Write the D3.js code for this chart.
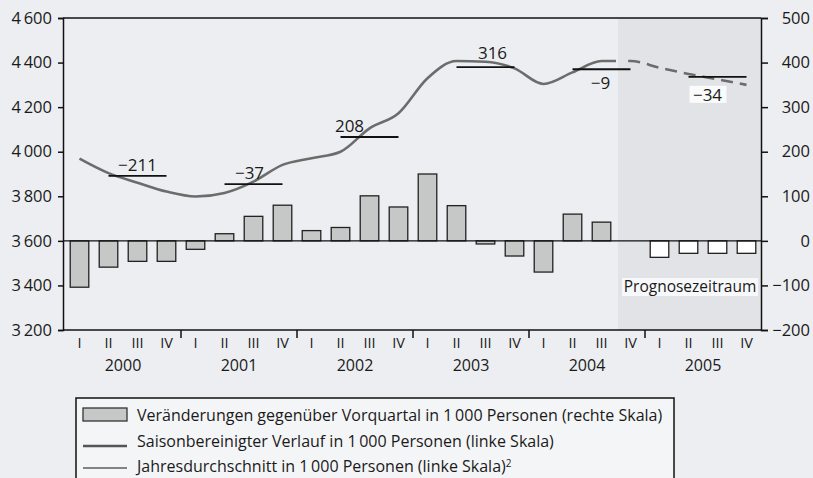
<!DOCTYPE html>
<html><head><meta charset="utf-8">
<script src="https://cdn.jsdelivr.net/npm/d3@7"></script>
<style>
html,body{margin:0;padding:0;background:#eceef1;}
svg{display:block;font-family:"Open Sans","Noto Sans",sans-serif;}
</style></head>
<body>
<svg id="c" width="813" height="478"></svg>
<script>
const years = ["2000","2001","2002","2003","2004","2005"];
const quarterNames = ["I","II","III","IV"];
// change vs previous quarter, 1000 persons (right scale); null = no bar
const barValues = [-104,-59,-46,-46, -19,16,55,80, 23,30,101,76, 150,79,-7,-34, -70,60,42,null, -37,-28,-28,-28];
// seasonally adjusted series, 1000 persons (left scale)
const lineValues = [3969,3904,3861,3821, 3799,3815,3866,3941, 3971,4000,4105,4173, 4330,4407,4404,4374, 4304,4356,4407,4407, 4377,4349,4325,4300];
// annual averages (left scale) and their change labels
const annualAvg = [3892,3855,4066,4380,4370,4336];
const annualLabels = ["\u2212211","\u221237","208","316","\u22129","\u221234"];
const leftTicks = [3200,3400,3600,3800,4000,4200,4400,4600];
const rightTicks = [-200,-100,0,100,200,300,400,500];
const forecastStart = 19; // index of first forecast quarter (2004 IV)
const legendItems = [
  "Veränderungen gegenüber Vorquartal in 1\u2009000 Personen (rechte Skala)",
  "Saisonbereinigter Verlauf in 1\u2009000 Personen (linke Skala)",
  "Jahresdurchschnitt in 1\u2009000 Personen (linke Skala)"
];

const svg = d3.select("#c");
const L = 65, R = 761, T = 18, B = 330;
const keys = [];
years.forEach(y => quarterNames.forEach(q => keys.push(y + "-" + q)));

const x = d3.scaleBand().domain(keys).range([L, R]).paddingInner(0).paddingOuter(0);
const yL = d3.scaleLinear().domain([3200, 4600]).range([B, T]);
const yR = d3.scaleLinear().domain([-200, 500]).range([B, T]);
const cx = i => x(keys[i]) + x.bandwidth() / 2;

const fmtL = d => d3.format(",")(d).replace(",", "\u2009");
const fmtR = d => d < 0 ? "\u2212" + Math.abs(d) : String(d);

// forecast shading
const fx = x(keys[forecastStart]) + 2;
svg.append("rect").attr("x", fx).attr("y", T).attr("width", R - fx).attr("height", B - T)
  .attr("fill", "#e1e3e6");

// bars
const barW = x.bandwidth() * 0.64;
svg.append("g").selectAll("rect")
  .data(barValues.map((v, i) => ({v, i})).filter(d => d.v !== null))
  .join("rect")
  .attr("x", d => cx(d.i) - barW / 2)
  .attr("width", barW)
  .attr("y", d => yR(Math.max(0, d.v)))
  .attr("height", d => Math.abs(yR(d.v) - yR(0)))
  .attr("fill", d => d.i >= forecastStart ? "#ffffff" : "#c6c8c8")
  .attr("stroke", "#222").attr("stroke-width", 1.3);

// zero line
svg.append("line").attr("x1", 63).attr("x2", R).attr("y1", yR(0)).attr("y2", yR(0))
  .attr("stroke", "#111").attr("stroke-width", 1.3);

// clip paths for solid/dashed parts
const defs = svg.append("defs");
defs.append("clipPath").attr("id", "past").append("rect")
  .attr("x", 0).attr("y", 0).attr("width", fx - 2).attr("height", 478);
defs.append("clipPath").attr("id", "fut").append("rect")
  .attr("x", fx + 4).attr("y", 0).attr("width", 813).attr("height", 478);

const line = d3.line().x((d, i) => cx(i)).y(d => yL(d)).curve(d3.curveMonotoneX);
svg.append("path").datum(lineValues).attr("d", line).attr("clip-path", "url(#past)")
  .attr("fill", "none").attr("stroke", "#6c6c6c").attr("stroke-width", 2.6);
svg.append("path").datum(lineValues).attr("d", line).attr("clip-path", "url(#fut)")
  .attr("fill", "none").attr("stroke", "#6c6c6c").attr("stroke-width", 2.6)
  .attr("stroke-dasharray", "12,7");

// annual average segments and labels
const labelDx = {0: 0, 1: -4, 2: -20, 3: 7, 4: -1, 5: -10};
annualAvg.forEach((v, k) => {
  const x1 = cx(k * 4 + 1), x2 = cx(k * 4 + 3);
  svg.append("line").attr("x1", x1).attr("x2", x2).attr("y1", yL(v)).attr("y2", yL(v))
    .attr("stroke", "#111").attr("stroke-width", 1.8);
  const below = k >= 4;
  const tx = (x1 + x2) / 2 + labelDx[k];
  const ty = below ? yL(v) + (k === 5 ? 18 : 14) : yL(v) - (k === 3 ? 14 : 11);
  if (k === 5) {
    svg.append("rect").attr("x", tx - 18).attr("y", ty - 9).attr("width", 37).attr("height", 17)
      .attr("fill", "#fbfbfb");
  }
  svg.append("text").attr("x", tx).attr("y", ty).attr("dy", "0.35em")
    .attr("text-anchor", "middle").attr("font-size", 17).attr("fill", "#1a1a1a")
    .text(annualLabels[k]);
});

// Prognosezeitraum label
svg.append("rect").attr("x", 622).attr("y", 278).attr("width", 136).attr("height", 18).attr("fill", "#f7f8f9");
svg.append("text").attr("x", 690).attr("y", 287).attr("dy", "0.35em").attr("text-anchor", "middle")
  .attr("font-size", 15.5).attr("fill", "#1a1a1a").text("Prognosezeitraum");

// frame
svg.append("line").attr("x1", 63).attr("x2", R).attr("y1", T).attr("y2", T).attr("stroke", "#111").attr("stroke-width", 1.5);
svg.append("line").attr("x1", 63).attr("x2", R).attr("y1", B).attr("y2", B).attr("stroke", "#111").attr("stroke-width", 1.5);

// left axis
const gl = svg.append("g").attr("transform", "translate(63,0)")
  .call(d3.axisLeft(yL).tickValues(leftTicks).tickFormat(fmtL).tickSize(5).tickPadding(6));
// right axis
const gr = svg.append("g").attr("transform", `translate(${R},0)`)
  .call(d3.axisRight(yR).tickValues(rightTicks).tickFormat(fmtR).tickSize(7).tickPadding(0));
[gl, gr].forEach(g => {
  g.select(".domain").attr("stroke", "#111").attr("stroke-width", 1.5);
  g.selectAll(".tick line").attr("stroke", "#111").attr("stroke-width", 1.5);
  g.selectAll("text").attr("font-size", 16.5).attr("fill", "#1a1a1a").attr("font-family", "Open Sans");
});
gr.selectAll("text").attr("text-anchor", "end").attr("x", 810 - R);

// bottom: quarter labels, year labels, year separators
const gb = svg.append("g");
keys.forEach((k, i) => {
  gb.append("text").attr("x", cx(i)).attr("y", 343).attr("dy", "0.35em").attr("text-anchor", "middle")
    .attr("font-size", 14.5).attr("fill", "#1a1a1a").text(quarterNames[i % 4]);
});
years.forEach((yv, j) => {
  const xs = x(keys[j * 4]), xe = x(keys[j * 4 + 3]) + x.bandwidth();
  gb.append("text").attr("x", (xs + xe) / 2).attr("y", 365).attr("dy", "0.35em").attr("text-anchor", "middle")
    .attr("font-size", 16).attr("fill", "#1a1a1a").text(yv);
  if (j > 0) gb.append("line").attr("x1", xs).attr("x2", xs).attr("y1", B).attr("y2", B + 8)
    .attr("stroke", "#111").attr("stroke-width", 1.5);
});

// legend
const lg = svg.append("g");
lg.append("rect").attr("x", 76).attr("y", 398).attr("width", 598).attr("height", 100)
  .attr("fill", "#f4f5f7").attr("stroke", "#111").attr("stroke-width", 1.5);
const rowY = [415, 441, 466];
lg.append("rect").attr("x", 83).attr("y", rowY[0] - 7).attr("width", 44).attr("height", 13)
  .attr("fill", "#c6c8c8").attr("stroke", "#333").attr("stroke-width", 1.3);
lg.append("line").attr("x1", 83).attr("x2", 127).attr("y1", rowY[1] + 5).attr("y2", rowY[1] + 5)
  .attr("stroke", "#555").attr("stroke-width", 2.4);
lg.append("line").attr("x1", 83).attr("x2", 127).attr("y1", rowY[2] + 2).attr("y2", rowY[2] + 2)
  .attr("stroke", "#111").attr("stroke-width", 1);
legendItems.forEach((t, i) => {
  const tx = lg.append("text").attr("x", 137).attr("y", rowY[i]).attr("dy", "0.35em")
    .attr("font-size", 16).attr("fill", "#1a1a1a").text(t);
  if (i === 2) tx.append("tspan").attr("dy", "-0.45em").attr("font-size", 10).text("2");
});
</script>
</body></html>
